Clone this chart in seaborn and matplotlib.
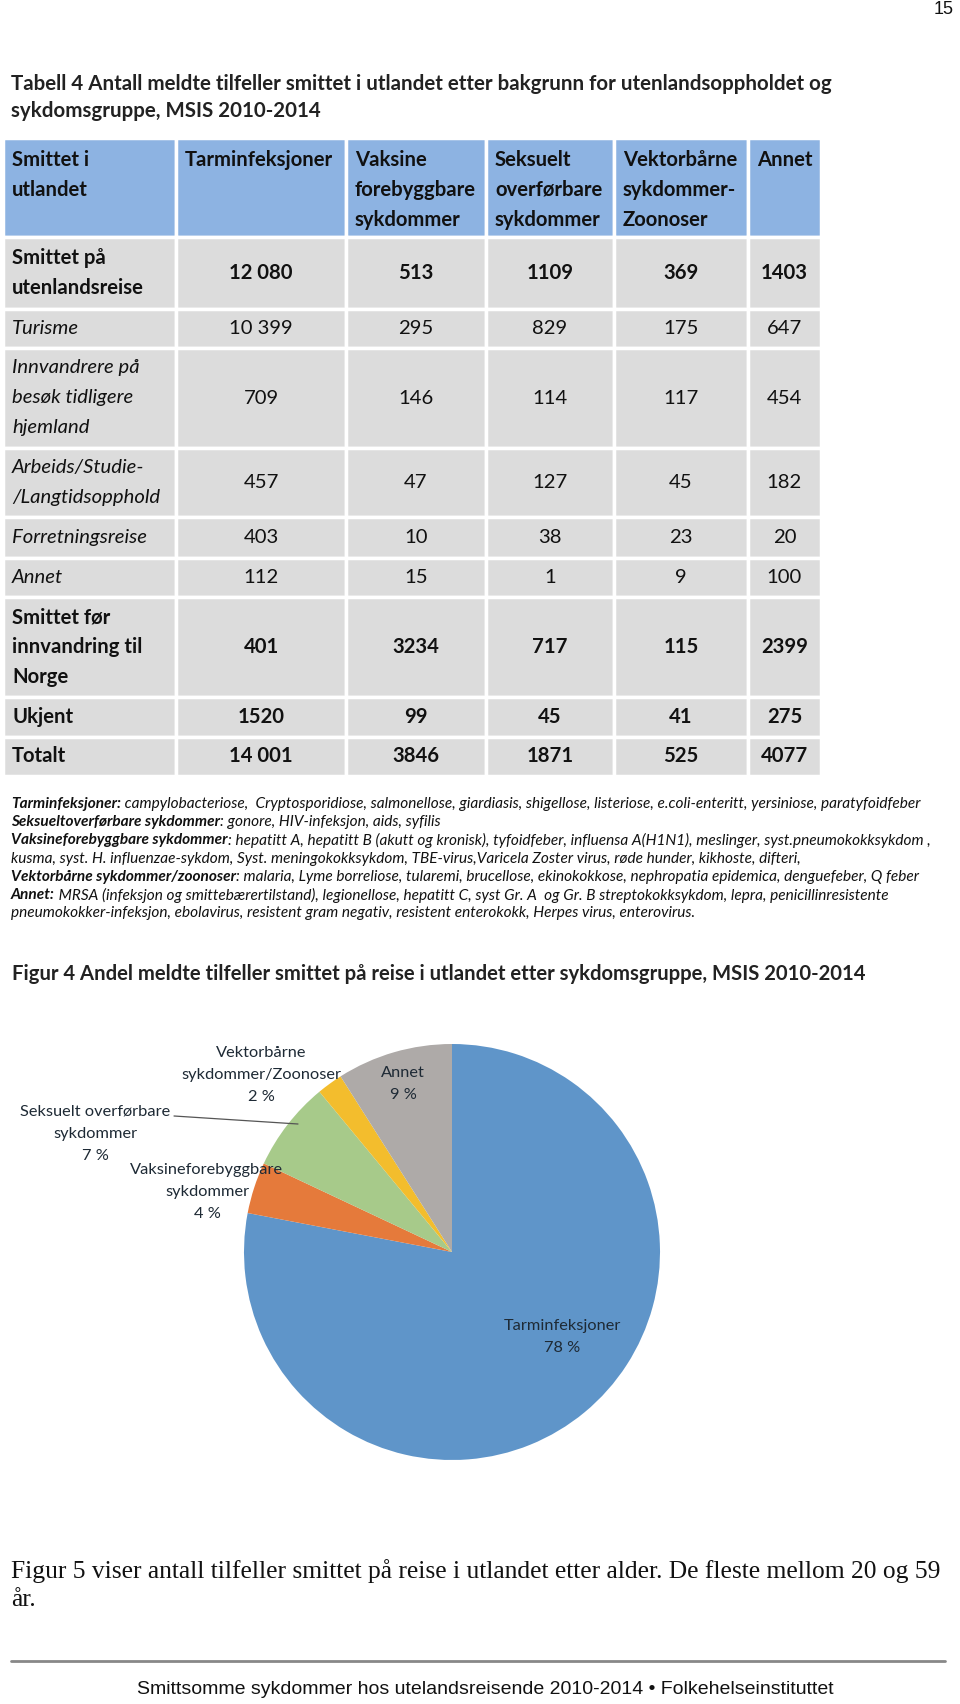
import matplotlib
matplotlib.use("Agg")
import matplotlib.pyplot as plt
from matplotlib.patches import Rectangle
import seaborn as sns

sns.set_theme(style="white")
plt.rcParams['font.family'] = ['Lato', 'DejaVu Sans']

# ---- data ----
page_no = "15"
table_title = ["Tabell 4 Antall meldte tilfeller smittet i utlandet etter bakgrunn for utenlandsoppholdet og",
               "sykdomsgruppe, MSIS 2010-2014"]
col_headers = ["Smittet i\nutlandet", "Tarminfeksjoner", "Vaksine\nforebyggbare\nsykdommer",
               "Seksuelt\noverførbare\nsykdommer", "Vektorbårne\nsykdommer-\nZoonoser", "Annet"]
row_labels = ["Smittet på\nutenlandsreise", "Turisme", "Innvandrere på\nbesøk tidligere\nhjemland",
              "Arbeids/Studie-\n/Langtidsopphold", "Forretningsreise", "Annet",
              "Smittet før\ninnvandring til\nNorge", "Ukjent", "Totalt"]
row_bold = [True, False, False, False, False, False, True, True, True]
tarm = [12080, 10399, 709, 457, 403, 112, 401, 1520, 14001]
vaksine = [513, 295, 146, 47, 10, 15, 3234, 99, 3846]
seksuelt = [1109, 829, 114, 127, 38, 1, 717, 45, 1871]
vektor = [369, 175, 117, 45, 23, 9, 115, 41, 525]
annet = [1403, 647, 454, 182, 20, 100, 2399, 275, 4077]

footnotes = [
    ("Tarminfeksjoner:", " campylobacteriose,  Cryptosporidiose, salmonellose, giardiasis, shigellose, listeriose, e.coli-enteritt, yersiniose, paratyfoidfeber"),
    ("Seksueltoverførbare sykdommer", ": gonore, HIV-infeksjon, aids, syfilis"),
    ("Vaksineforebyggbare sykdommer", ": hepatitt A, hepatitt B (akutt og kronisk), tyfoidfeber, influensa A(H1N1), meslinger, syst.pneumokokksykdom ,"),
    ("", "kusma, syst. H. influenzae-sykdom, Syst. meningokokksykdom, TBE-virus,Varicela Zoster virus, røde hunder, kikhoste, difteri,"),
    ("Vektorbårne sykdommer/zoonoser", ": malaria, Lyme borreliose, tularemi, brucellose, ekinokokkose, nephropatia epidemica, denguefeber, Q feber"),
    ("Annet:", " MRSA (infeksjon og smittebærertilstand), legionellose, hepatitt C, syst Gr. A  og Gr. B streptokokksykdom, lepra, penicillinresistente"),
    ("", "pneumokokker-infeksjon, ebolavirus, resistent gram negativ, resistent enterokokk, Herpes virus, enterovirus."),
]

fig_title = "Figur 4 Andel meldte tilfeller smittet på reise i utlandet etter sykdomsgruppe, MSIS 2010-2014"
pie_labels = ["Tarminfeksjoner", "Vaksineforebyggbare\nsykdommer", "Seksuelt overførbare\nsykdommer",
              "Vektorbårne\nsykdommer/Zoonoser", "Annet"]
pie_shares = [78, 4, 7, 2, 9]
pie_colors = ["#5f95c9", "#e57a3b", "#a7ca8a", "#f3bd2d", "#aeaaa8"]

body_text = ["Figur 5 viser antall tilfeller smittet på reise i utlandet etter alder. De fleste mellom 20 og 59",
             "år."]
footer = "Smittsomme sykdommer hos utelandsreisende 2010-2014 • Folkehelseinstituttet"

# ---- figure ----
W, H = 960, 1704
fig = plt.figure(figsize=(W / 100, H / 100), dpi=100)

# pie axes (below the page layer)
cx, cy, r = 452, 1252, 208
ax_pie = fig.add_axes([(cx - r) / W, 1 - (cy + r) / H, 2 * r / W, 2 * r / H])
ax_pie.pie(pie_shares, colors=pie_colors, startangle=90, counterclock=False,
           wedgeprops=dict(linewidth=0))
ax_pie.set_xlim(-1, 1)
ax_pie.set_ylim(-1, 1)
ax_pie.axis("off")

ax = fig.add_axes([0, 0, 1, 1], zorder=2)
ax.set_xlim(0, W)
ax.set_ylim(H, 0)
ax.axis("off")
ax.patch.set_alpha(0)

ax.text(944, 10, page_no, ha="center", va="center", fontsize=13,
        family=["Liberation Sans", "DejaVu Sans"], color="#111111")

for i, line in enumerate(table_title):
    ax.text(11, 84 + i * 27, line, fontsize=14.8, fontweight="bold", va="center", color="#222222")

# table grid
col_edges = [3, 176, 346, 486, 614, 748, 821]
row_edges = [138, 237, 309, 348, 448, 517, 558, 597, 697, 737, 776]
pitch = 30
fs = 14.6

def lines_at(x, yc, txt, ha="left", **kw):
    parts = txt.split("\n")
    y0 = yc - (len(parts) - 1) * pitch / 2
    for k, p in enumerate(parts):
        ax.text(x, y0 + k * pitch, p, ha=ha, va="center", color="#111111", **kw)

for j in range(6):
    x0, x1 = col_edges[j], col_edges[j + 1]
    ax.add_patch(Rectangle((x0, row_edges[0]), x1 - x0, row_edges[1] - row_edges[0],
                           facecolor="#8db3e2", edgecolor="white", linewidth=2.5))
    parts = col_headers[j].split("\n")
    for k, p in enumerate(parts):
        ax.text(x0 + 9, 160 + k * pitch, p, fontsize=fs, fontweight="bold",
                va="center", color="#111111")

cols = [tarm, vaksine, seksuelt, vektor, annet]

def fmt(v):
    return f"{v:,}".replace(",", " ") if v >= 10000 else str(v)

for i in range(len(row_labels)):
    y0, y1 = row_edges[i + 1], row_edges[i + 2]
    yc = (y0 + y1) / 2
    for j in range(6):
        x0, x1 = col_edges[j], col_edges[j + 1]
        ax.add_patch(Rectangle((x0, y0), x1 - x0, y1 - y0, facecolor="#dcdcdc",
                               edgecolor="white", linewidth=2.5))
    if row_bold[i]:
        lines_at(12, yc, row_labels[i], fontsize=fs, fontweight="bold")
    else:
        lines_at(12, yc, row_labels[i], fontsize=fs, style="italic")
    for j, col in enumerate(cols):
        xc = (col_edges[j + 1] + col_edges[j + 2]) / 2
        ax.text(xc, yc, fmt(col[i]), ha="center", va="center", fontsize=fs,
                fontweight="bold" if row_bold[i] else "normal", color="#111111")

# footnotes
fig.canvas.draw()
renderer = fig.canvas.get_renderer()
fn_size = 11.1
for i, (b, rest) in enumerate(footnotes):
    y = 804 + i * 18.2
    x = 11
    if b:
        t = ax.text(x, y, b, fontsize=fn_size, fontweight="bold", style="italic",
                    va="center", color="#111111")
        x += t.get_window_extent(renderer).width
    ax.text(x, y, rest, fontsize=fn_size, style="italic", va="center", color="#111111")

ax.text(12, 974, fig_title, fontsize=14.6, fontweight="bold", va="center", color="#222222")

# pie labels
lab_pos = [(562, 1326), (207, 1170), (95, 1112), (261, 1053), (403, 1073)]
for lab, share, (lx, ly) in zip(pie_labels, pie_shares, lab_pos):
    parts = lab.split("\n") + [f"{share} %"]
    for k, p in enumerate(parts):
        ax.text(lx, ly + k * 22, p, ha="center", va="center", fontsize=11.8, color="#1e2a35")
ax.plot([174, 298], [1116, 1124], color="#555555", linewidth=0.9)

for i, line in enumerate(body_text):
    ax.text(11, 1571 + i * 29, line, fontsize=18.4, family=["Liberation Serif", "DejaVu Serif"],
            va="center", color="#111111")

ax.plot([11, 945], [1661, 1661], color="#888888", linewidth=2)
ax.text(485, 1690, footer, ha="center", va="center", fontsize=14,
        family=["Liberation Sans", "DejaVu Sans"], color="#111111")

fig.savefig("out.png", dpi=100)
